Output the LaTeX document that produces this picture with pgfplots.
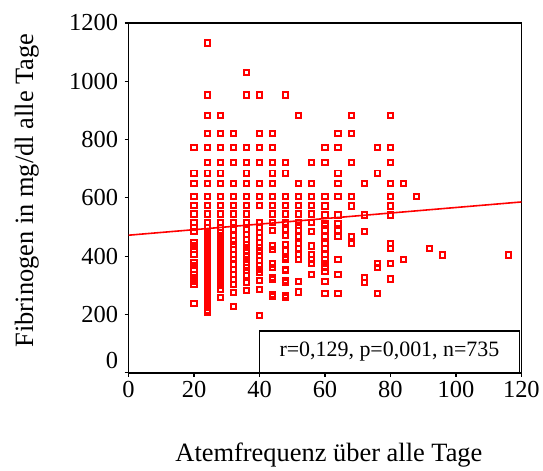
\documentclass[border=0pt]{standalone}
\usepackage{fontspec}
\setmainfont{Liberation Serif}
\usepackage{pgfplots}
\usepackage{pgfplotstable}
\pgfplotsset{compat=1.18}
\pgfplotstableread{
x y
20 772
20 685
20 650
20 606
20 574
20 545
20 515
20 498
20 486
20 447
20 435
20 424
20 407
20 378
20 367
20 355
20 338
20 326
20 315
20 304
20 238
24 1131
24 953
24 883
24 822
24 772
24 722
24 685
24 650
24 606
24 574
24 545
24 515
24 498
24 486
24 475
24 464
24 453
24 441
24 430
24 418
24 407
24 396
24 384
24 373
24 362
24 350
24 339
24 328
24 316
24 305
24 294
24 283
24 271
24 260
24 249
24 238
24 226
24 215
24 207
28 883
28 822
28 772
28 722
28 685
28 650
28 606
28 574
28 545
28 515
28 498
28 481
28 470
28 458
28 447
28 435
28 424
28 413
28 401
28 390
28 378
28 367
28 355
28 344
28 333
28 321
28 310
28 299
28 287
28 259
32 822
32 772
32 722
32 650
32 606
32 574
32 545
32 515
32 492
32 470
32 452
32 441
32 424
32 407
32 390
32 373
32 355
32 338
32 321
32 304
32 276
32 227
36 1031
36 953
36 772
36 722
36 685
36 650
36 606
36 574
36 545
36 515
36 492
36 475
36 458
36 441
36 430
36 418
36 401
36 390
36 378
36 361
36 350
36 333
36 310
36 282
40 953
40 822
40 772
40 722
40 650
40 606
40 574
40 515
40 498
40 481
40 464
40 447
40 430
40 418
40 401
40 384
40 367
40 355
40 344
40 316
40 287
40 196
44 822
44 772
44 722
44 685
44 650
44 606
44 574
44 545
44 515
44 487
44 435
44 424
44 373
44 361
44 327
44 321
44 270
44 262
48 953
48 722
48 685
48 606
48 574
48 545
48 515
48 492
48 470
48 441
48 418
48 396
48 390
48 355
48 350
48 316
48 310
48 264
48 259
52 883
52 650
52 606
52 574
52 545
52 515
52 504
52 487
52 467
52 443
52 426
52 405
52 390
52 312
52 277
56 722
56 650
56 606
56 574
56 545
56 515
56 486
56 435
56 405
56 390
56 374
56 338
60 772
60 722
60 606
60 572
60 541
60 513
60 504
60 487
60 467
60 443
60 426
60 405
60 390
60 374
60 363
60 347
60 312
60 271
64 822
64 772
64 685
64 650
64 606
64 541
64 513
64 487
64 467
64 390
64 336
64 271
68 883
68 822
68 722
68 606
68 572
68 467
68 443
72 650
72 541
72 486
72 327
72 310
76 772
76 685
76 374
76 362
76 271
80 883
80 772
80 722
80 650
80 606
80 572
80 541
80 443
80 426
80 374
80 322
84 650
84 390
88 606
92 426
96 404
116 404
}\scatterdata
\begin{document}
\begin{tikzpicture}
\begin{axis}[
  name=ax,
  scale only axis,
  width=394pt, height=351pt,
  xmin=0, xmax=120, ymin=0, ymax=1200,
  xtick={0,20,...,120}, ytick={200,400,...,1200},
  extra y ticks={0}, extra y tick labels={0},
  extra y tick style={yticklabel style={yshift=12pt}},
  xtick pos=bottom, ytick pos=left,
  tick align=outside,
  major tick length=4pt,
  axis line style={line width=1.6pt},
  every tick/.style={black, line width=1.2pt},
  /pgf/number format/assume math mode=true,
  /pgf/number format/1000 sep={},
  ticklabel style={font=\fontsize{24.5}{28}\selectfont},
  xticklabel style={yshift=-1pt},
  yticklabel style={xshift=-3pt},
  label style={font=\fontsize{26.5}{30}\selectfont},
  xlabel={Atemfrequenz über alle Tage},
  xlabel style={at={(axis description cs:0.51,-0.236)}, anchor=center},
  ylabel={Fibrinogen in mg/dl alle Tage},
  ylabel style={at={(axis description cs:-0.259,0.521)}, anchor=center},
  clip=false,
]
\addplot[only marks, mark=square, mark size=2.6pt, draw=red, mark options={draw=red, solid, line width=2pt}] table[x=x,y=y] {\scatterdata};
\addplot[red, line width=1.6pt, no marks] coordinates {(0,472) (120,586)};
\draw[fill=white, line width=1.5pt] (axis cs:40,0) rectangle (axis cs:119.4,144);
\node[font=\fontsize{22}{26}\selectfont] at (axis cs:79.7,72) {r=0,129, p=0,001, n=735};
\end{axis}
\path ([xshift=-129pt,yshift=-96pt]ax.south west) rectangle ([xshift=20pt,yshift=23pt]ax.north east);
\end{tikzpicture}
\end{document}
